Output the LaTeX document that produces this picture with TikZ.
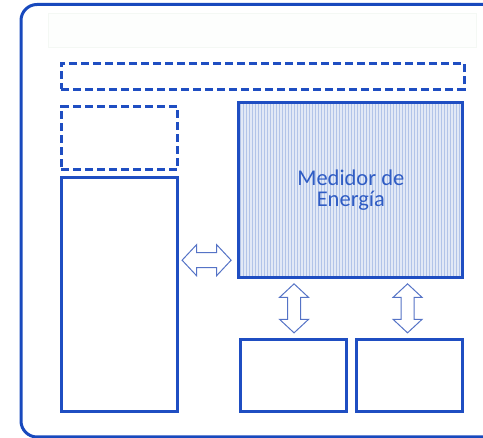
\documentclass[tikz,border=0pt]{standalone}
\usepackage{fontspec}
\setmainfont{Carlito}
\usetikzlibrary{shapes.arrows,patterns,calc}
\definecolor{frameblue}{HTML}{1849BD}
\definecolor{boxblue}{HTML}{1F4EC2}
\definecolor{arrowblue}{HTML}{5573C6}
\definecolor{textblue}{HTML}{2F5CC4}
\definecolor{hatchbg}{HTML}{E2E9F6}
\definecolor{hatchline}{HTML}{B2C4E8}
\definecolor{faintfill}{HTML}{FDFEFD}
\definecolor{faintline}{HTML}{F4F8F4}
\begin{document}
\begin{tikzpicture}[x=1pt,y=-1pt,
  box/.style={draw=boxblue,line width=3pt,inner sep=0pt,anchor=north west},
  dashbox/.style={box,dash pattern=on 8pt off 4pt},
  link/.style={double arrow,draw=arrowblue,line width=1pt,fill=white,
    inner xsep=0pt,double arrow head extend=8pt,double arrow tip angle=94,
    minimum height=49pt}]
\useasboundingbox (0,0) rectangle (483,438);
\clip (0,0) rectangle (483,438);
\draw[frameblue,line width=3pt,rounded corners=16pt] (21,4.5) rectangle (520,437);
\node[anchor=north west,draw=faintline,fill=faintfill,minimum width=428pt,minimum height=34pt] (title) at (48,13) {};
\node[dashbox,minimum width=403pt,minimum height=26pt] (bar) at (59.5,62) {};
\node[dashbox,minimum width=116.5pt,minimum height=62.7pt] (small) at (59.5,105.3) {};
\node[box,minimum width=116.5pt,minimum height=234.5pt] (tall) at (59.5,176) {};
\node[box,minimum width=224pt,minimum height=174.4pt,
  preaction={fill=hatchbg},pattern=vertical lines,pattern color=hatchline,
  text=textblue,align=center,font=\fontsize{22.5}{20.5}\selectfont] (medidor) at (237.3,101.3) {Medidor de\\Energía};
\node[box,minimum width=106.4pt,minimum height=72.4pt] (busA) at (239,338) {};
\node[box,minimum width=106pt,minimum height=72.4pt] (busB) at (355.3,338) {};
% arrows
\node[link,inner ysep=7pt] (linkL) at ($(medidor.south west)+(-30.7,-18.5)$) {};
\coordinate (midA) at ($(medidor.south west)!0.25!(medidor.south east)$);
\coordinate (midB) at ($(medidor.south west)!0.75!(medidor.south east)$);
\coordinate (midY) at ($(medidor.south)!0.5!(busA.north)$);
\node[link,inner ysep=6pt,rotate=90] (linkA) at (midA |- midY) {};
\node[link,inner ysep=6pt,rotate=90] (linkB) at (midB |- midY) {};
\end{tikzpicture}
\end{document}
